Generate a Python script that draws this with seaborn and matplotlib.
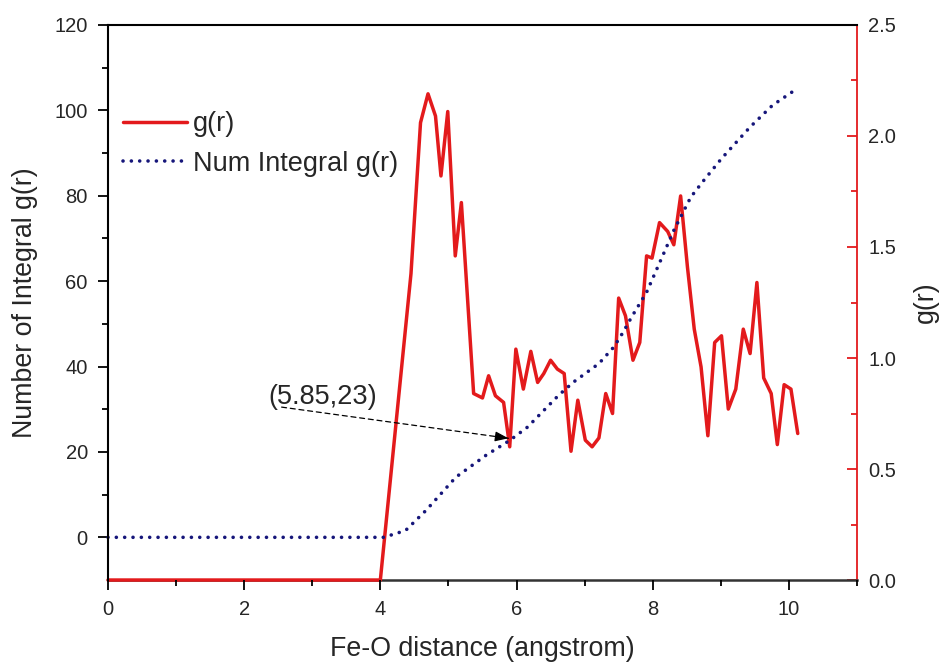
import matplotlib
matplotlib.use("Agg")
import matplotlib.pyplot as plt
import seaborn as sns
import numpy as np

# ---- data ----
g_x = [0, 4.0, 4.45, 4.59, 4.70, 4.81, 4.89, 4.99, 5.10, 5.19, 5.37, 5.50, 5.59, 5.69,
       5.81, 5.90, 5.99, 6.10, 6.21, 6.31, 6.40, 6.50, 6.60, 6.70, 6.80, 6.90, 7.01,
       7.11, 7.21, 7.31, 7.41, 7.50, 7.60, 7.71, 7.81, 7.91, 7.99, 8.10, 8.22, 8.31,
       8.41, 8.51, 8.61, 8.71, 8.81, 8.91, 9.01, 9.11, 9.22, 9.33, 9.43, 9.53, 9.63,
       9.74, 9.83, 9.93, 10.03, 10.13]
g_r = [0, 0, 1.38, 2.06, 2.19, 2.09, 1.82, 2.11, 1.46, 1.70, 0.84, 0.82, 0.92, 0.83,
       0.80, 0.60, 1.04, 0.86, 1.03, 0.89, 0.93, 0.99, 0.95, 0.93, 0.58, 0.81, 0.63,
       0.60, 0.64, 0.84, 0.75, 1.27, 1.19, 0.99, 1.07, 1.46, 1.45, 1.61, 1.57, 1.51,
       1.73, 1.41, 1.13, 0.96, 0.65, 1.07, 1.10, 0.77, 0.86, 1.13, 1.02, 1.34, 0.91,
       0.84, 0.61, 0.88, 0.86, 0.66]

n_x = [0, 4.05, 4.37, 4.67, 5.11, 5.55, 5.90, 6.16, 6.62, 6.84, 7.21, 7.43, 7.56,
       7.69, 7.91, 8.17, 8.31, 8.56, 8.75, 9.01, 9.43, 9.76, 10.13]
n_int = [0, 0, 1.6, 6.3, 14.1, 19.2, 22.7, 25.8, 33.3, 36.4, 40.7, 44.6, 47.9,
         51.6, 57.4, 66.8, 71.9, 79.7, 83.6, 88.7, 96.1, 101.2, 105.2]

x_ticks = [0, 2, 4, 6, 8, 10]
left_ticks = [0, 20, 40, 60, 80, 100, 120]
right_ticks = [0.0, 0.5, 1.0, 1.5, 2.0, 2.5]
annot_label = "(5.85,23)"
annot_point = (5.88, 23.2)

RED = "#e31a1c"
NAVY = "#16167a"

sns.set_style("ticks")
plt.rcParams["font.family"] = ["Liberation Sans", "DejaVu Sans"]

fig = plt.figure(figsize=(9.48, 6.68), dpi=100)
ax = fig.add_axes([0.1139, 0.1317, 0.904 - 0.1139, 0.9626 - 0.1317])
ax2 = ax.twinx()

# red g(r) on right axis (drawn below)
sns.lineplot(x=g_x, y=g_r, ax=ax2, color=RED, linewidth=2.5, estimator=None,
             sort=False, label="g(r)", legend=False)
for ln in ax2.get_lines():
    ln.set_clip_on(False)
    ln.set_zorder(3)

# dotted integral on left axis (drawn on top)
sns.lineplot(x=n_x, y=n_int, ax=ax, color=NAVY, linewidth=2.6, estimator=None,
             sort=False, label="Num Integral g(r)", legend=False,
             linestyle=(0, (0.01, 2.3)))
for ln in ax.get_lines():
    ln.set_dash_capstyle("round")
    ln.set_solid_capstyle("round")
    ln.set_clip_on(False)

ax.set_zorder(ax2.get_zorder() + 1)
ax.patch.set_visible(False)

ax.set_xlim(0, 11)
ax.set_ylim(-10, 120)
ax2.set_ylim(0, 2.5)

ax.set_xticks(x_ticks)
ax.set_xticks(np.arange(1, 12, 2), minor=True)
ax.set_yticks(left_ticks)
ax.set_yticks(np.arange(10, 120, 20), minor=True)
ax2.set_yticks(right_ticks)
ax2.set_yticks(np.arange(0.25, 2.5, 0.5), minor=True)

ax.tick_params(axis="x", which="major", direction="out", length=7.5, width=1.3,
               labelsize=14.5, pad=7, color="black")
ax.tick_params(axis="x", which="minor", direction="out", length=4, width=1.3,
               color="black")
ax.tick_params(axis="y", which="major", direction="out", length=7.5, width=1.3,
               labelsize=14.5, pad=7, color="black", right=False)
ax.tick_params(axis="y", which="minor", direction="out", length=4, width=1.3,
               color="black", right=False)
ax2.tick_params(axis="y", which="major", direction="in", length=7.5, width=1.3,
                labelsize=14.5, pad=8, color=RED, left=False)
ax2.tick_params(axis="y", which="minor", direction="in", length=4, width=1.3,
                color=RED, left=False)

for s in ["left", "top"]:
    ax.spines[s].set_color("black")
    ax.spines[s].set_linewidth(1.5)
ax.spines["bottom"].set_visible(False)
ax.spines["right"].set_visible(False)
for s in ["left", "top"]:
    ax2.spines[s].set_visible(False)
ax2.spines["bottom"].set_visible(True)
ax2.spines["bottom"].set_color("#333333")
ax2.spines["bottom"].set_linewidth(1.8)
ax2.spines["right"].set_visible(True)
ax2.spines["right"].set_color(RED)
ax2.spines["right"].set_linewidth(1.3)

ax.set_xlabel("Fe-O distance (angstrom)", fontsize=19.3, labelpad=12)
ax.set_ylabel("Number of Integral g(r)", fontsize=19.3, labelpad=12)
ax2.set_ylabel("g(r)", fontsize=19.3, labelpad=12)

# annotation
ax.text(3.16, 32.8, annot_label, fontsize=19.5, ha="center", va="center")
ax.annotate("", xy=annot_point, xytext=(2.55, 30.5),
            arrowprops=dict(arrowstyle="-", linestyle=(0, (4, 3)), color="black",
                            lw=0.9, shrinkA=0, shrinkB=0))
ax.annotate("", xy=annot_point, xytext=(5.70, 23.6),
            arrowprops=dict(arrowstyle="-|>,head_length=0.8,head_width=0.3",
                            color="black", lw=0.9, shrinkA=0, shrinkB=0))

# legend
h1 = ax2.get_lines()[0]
h2 = ax.get_lines()[0]
leg = ax.legend([h1, h2], ["g(r)", "Num Integral g(r)"], loc="upper left",
                bbox_to_anchor=(0.02, 0.845), frameon=False, fontsize=19.5,
                handlelength=2.35, handletextpad=0.25, labelspacing=0.5,
                borderpad=0, borderaxespad=0)

fig.savefig("out.png", dpi=100)
